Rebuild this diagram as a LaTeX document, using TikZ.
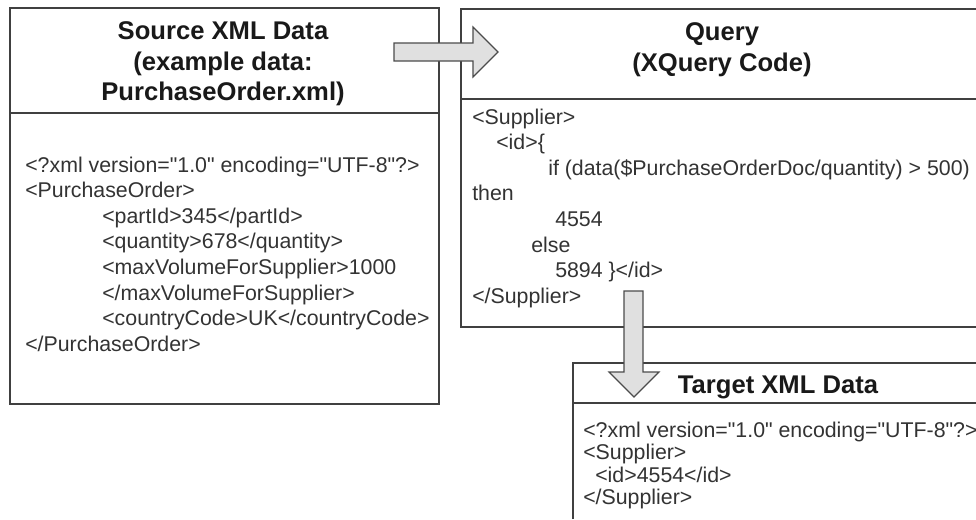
\documentclass[tikz,border=0pt]{standalone}
\usepackage{fontspec}
\setmainfont{Liberation Sans}
\newfontfamily\codefont{Liberation Sans}
\definecolor{linec}{gray}{0.25}
\definecolor{textc}{gray}{0.2}
\tikzset{
  panel/.style={draw=linec,line width=0.9pt,fill=white},
  rule/.style={draw=linec,line width=0.9pt},
  title/.style={font=\fontsize{19.2}{22.9}\selectfont\bfseries,align=center,inner sep=0,text=black!90},
  code/.style={font=\codefont\fontsize{16}{18}\selectfont,anchor=base west,inner sep=0,text=textc},
  bigarrow/.style={draw=black!70,fill=black!12,line width=0.9pt,line join=miter}
}
\begin{document}
\begin{tikzpicture}[x=0.75pt,y=-0.75pt]
\useasboundingbox (0,0) rectangle (976,519);
\path[fill=white] (0,0) rectangle (976,519);
% source
\draw[panel] (10,8) rectangle (439,404);
\draw[rule] (10,113) -- (439,113);
\node[title] (srct) at (223,64) {Source XML Data\\(example data:\\PurchaseOrder.xml)};
\node[code] (s1) at (25,172) {<?xml version="1.0" encoding="UTF-8"?>};
\node[code] (s2) at (25,197.5) {<PurchaseOrder>};
\node[code] (s3) at (102,223) {<partId>345</partId>};
\node[code] (s4) at (102,248.7) {<quantity>678</quantity>};
\node[code] (s5) at (102,274) {<maxVolumeForSupplier>1000};
\node[code] (s6) at (102,300) {</maxVolumeForSupplier>};
\node[code] (s7) at (102,325.7) {<countryCode>UK</countryCode>};
\node[code] (s8) at (25,351) {</PurchaseOrder>};
% query
\draw[panel] (976,9) -- (461,9) -- (461,327) -- (976,327);
\draw[rule] (461,99) -- (976,99);
\node[title] (qt) at (722,49.5) {Query\\(XQuery Code)};
\node[code] (q1) at (472,124) {<Supplier>};
\node[code] (q2) at (496,149) {<id>\{};
\node[code] (q3) at (548,175) {if (data(\$PurchaseOrderDoc/quantity) > 500)};
\node[code] (q4) at (472,200.7) {then};
\node[code] (q5) at (555,226.7) {4554};
\node[code] (q6) at (531,252) {else};
\node[code] (q7) at (555,277.7) {5894 \}</id>};
\node[code] (q8) at (472,303) {</Supplier>};
% target
\draw[panel] (573,519) -- (573,363) -- (976,363);
\draw[rule] (573,403) -- (976,403);
\node[title] (tt) at (778,387) {Target XML Data};
\node[code] (t1) at (583,437) {<?xml version="1.0" encoding="UTF-8"?>};
\node[code] (t2) at (583,459) {<Supplier>};
\node[code] (t3) at (595,482) {<id>4554</id>};
\node[code] (t4) at (583,504) {</Supplier>};
% arrows
\draw[bigarrow] (394,43) -- (473,43) -- (473,27) -- (498,52) -- (473,77) -- (473,61) -- (394,61) -- cycle;
\draw[bigarrow] (624,291) -- (643,291) -- (643,372) -- (659,372) -- (634,397) -- (609,372) -- (624,372) -- cycle;
\end{tikzpicture}
\end{document}
